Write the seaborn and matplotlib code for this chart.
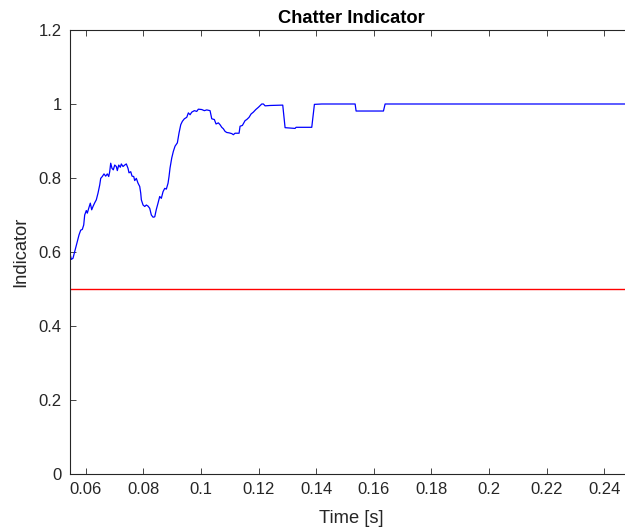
import matplotlib
matplotlib.use("Agg")
import matplotlib.pyplot as plt
import matplotlib.ticker as mticker
import pandas as pd
import seaborn as sns

# Chatter indicator over time
time_s = [
    0.05455, 0.05500, 0.05559, 0.05618, 0.05708, 0.05767, 0.05826, 0.05882,
    0.05931, 0.05965, 0.06021, 0.06056, 0.06104, 0.06160, 0.06208, 0.06253,
    0.06313, 0.06368, 0.06427, 0.06486, 0.06521, 0.06576, 0.06635, 0.06694,
    0.06750, 0.06799, 0.06833, 0.06868, 0.06913, 0.06958, 0.07007, 0.07063,
    0.07097, 0.07146, 0.07201, 0.07236, 0.07295, 0.07354, 0.07410, 0.07469,
    0.07503, 0.07563, 0.07608, 0.07667, 0.07701, 0.07757, 0.07816, 0.07875,
    0.07910, 0.07931, 0.07990, 0.08049, 0.08104, 0.08163, 0.08222, 0.08278,
    0.08337, 0.08396, 0.08451, 0.08510, 0.08569, 0.08625, 0.08684, 0.08743,
    0.08799, 0.08858, 0.08892, 0.08927, 0.08986, 0.09042, 0.09101, 0.09181,
    0.09240, 0.09299, 0.09354, 0.09424, 0.09507, 0.09563, 0.09622, 0.09681,
    0.09771, 0.09854, 0.09910, 0.10028, 0.10118, 0.10201, 0.10316, 0.10375,
    0.10465, 0.10524, 0.10604, 0.10663, 0.10722, 0.10778, 0.10837, 0.10896,
    0.10976, 0.11069, 0.11125, 0.11184, 0.11323, 0.11358, 0.11438, 0.11531,
    0.11590, 0.11670, 0.11740, 0.11819, 0.11903, 0.11993, 0.12111, 0.12167,
    0.12226, 0.12399, 0.12839, 0.12920, 0.13267, 0.13302, 0.13846, 0.13938,
    0.14193, 0.15351, 0.15385, 0.16334, 0.16392, 0.25000,
]
indicator = [
    0.596, 0.580, 0.583, 0.601, 0.628, 0.646, 0.659, 0.661,
    0.673, 0.700, 0.712, 0.705, 0.718, 0.732, 0.714, 0.723,
    0.733, 0.741, 0.759, 0.781, 0.799, 0.804, 0.811, 0.805,
    0.811, 0.804, 0.817, 0.840, 0.826, 0.822, 0.835, 0.831,
    0.820, 0.835, 0.829, 0.838, 0.831, 0.835, 0.838, 0.826,
    0.814, 0.817, 0.805, 0.804, 0.793, 0.799, 0.786, 0.777,
    0.759, 0.741, 0.727, 0.723, 0.727, 0.724, 0.718, 0.700,
    0.694, 0.695, 0.715, 0.732, 0.750, 0.745, 0.763, 0.772,
    0.770, 0.786, 0.804, 0.827, 0.854, 0.872, 0.886, 0.895,
    0.922, 0.944, 0.953, 0.960, 0.964, 0.976, 0.971, 0.978,
    0.982, 0.980, 0.986, 0.985, 0.982, 0.984, 0.982, 0.960,
    0.958, 0.946, 0.949, 0.944, 0.937, 0.933, 0.926, 0.923,
    0.922, 0.920, 0.917, 0.921, 0.921, 0.940, 0.942, 0.955,
    0.958, 0.964, 0.973, 0.978, 0.985, 0.991, 1.000, 1.000,
    0.995, 0.996, 0.997, 0.936, 0.934, 0.937, 0.937, 0.999,
    1.000, 1.000, 0.981, 0.981, 1.000, 1.000,
]
threshold = 0.5

x_ticks = [0.06, 0.08, 0.10, 0.12, 0.14, 0.16, 0.18, 0.20, 0.22, 0.24]
y_ticks = [0, 0.2, 0.4, 0.6, 0.8, 1.0, 1.2]

df = pd.DataFrame({"time": time_s, "indicator": indicator})

sns.set_theme(style="white")
plt.rcParams["font.family"] = ["Liberation Sans", "DejaVu Sans"]

fig = plt.figure(figsize=(6.25, 5.3), dpi=100)
ax = fig.add_axes([0.112, 0.1057, 0.901, 0.8377])

sns.lineplot(data=df, x="time", y="indicator", ax=ax, color="#0000ff",
             linewidth=0.9, estimator=None, sort=False)
ax.axhline(threshold, color="#ff0000", linewidth=1.0)

ax.set_xlim(0.05455, 0.25)
ax.set_ylim(0, 1.2)
ax.set_xticks(x_ticks)
ax.set_yticks(y_ticks)
fmt = mticker.FuncFormatter(lambda v, p: f"{v:g}")
ax.xaxis.set_major_formatter(fmt)
ax.yaxis.set_major_formatter(fmt)

edge = "#262626"
for side in ["left", "top", "bottom", "right"]:
    ax.spines[side].set_visible(True)
    ax.spines[side].set_color(edge)
    ax.spines[side].set_linewidth(0.8)
ax.tick_params(axis="both", which="major", direction="in", length=4.5,
               width=0.6, color=edge, labelcolor="#262626", labelsize=12,
               top=True, right=True, bottom=True, left=True)
ax.tick_params(axis="x", pad=6)
ax.tick_params(axis="y", pad=6)

ax.set_xlabel("Time [s]", fontsize=13.2, color="#262626", labelpad=9)
ax.set_ylabel("Indicator", fontsize=13.2, color="#262626", labelpad=7)
ax.set_title("Chatter Indicator", fontsize=13.2, fontweight="bold",
             color="black", pad=5)
ax.grid(False)

fig.savefig("out.png", dpi=100)
